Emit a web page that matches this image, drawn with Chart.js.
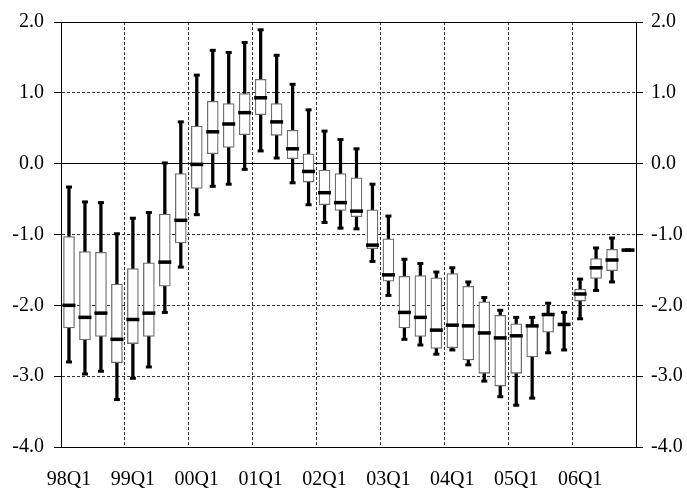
<!DOCTYPE html>
<html><head><meta charset="utf-8">
<script src="https://cdn.jsdelivr.net/npm/chart.js@4/dist/chart.umd.min.js"></script>
<style>html,body{margin:0;padding:0;background:#fff}</style>
</head><body>
<canvas id="c" width="687" height="495"></canvas>
<script>
const quarters = ['98Q1','98Q2','98Q3','98Q4','99Q1','99Q2','99Q3','99Q4',
  '00Q1','00Q2','00Q3','00Q4','01Q1','01Q2','01Q3','01Q4',
  '02Q1','02Q2','02Q3','02Q4','03Q1','03Q2','03Q3','03Q4',
  '04Q1','04Q2','04Q3','04Q4','05Q1','05Q2','05Q3','05Q4',
  '06Q1','06Q2','06Q3','06Q4'];
const whiskerHigh = [-0.33,-0.54,-0.55,-0.99,-0.77,-0.69,0.01,0.59,
  1.25,1.60,1.57,1.71,1.89,1.53,1.12,0.76,
  0.46,0.34,0.21,-0.29,-0.74,-1.35,-1.41,-1.53,
  -1.47,-1.67,-1.89,-2.07,-2.17,-2.17,-1.97,-2.10,
  -1.63,-1.19,-1.05,-1.22];
const boxTop = [-1.03,-1.24,-1.25,-1.70,-1.48,-1.40,-0.71,-0.14,
  0.53,0.88,0.85,0.99,1.19,0.85,0.47,0.14,
  -0.09,-0.14,-0.20,-0.65,-1.06,-1.59,-1.58,-1.61,
  -1.55,-1.73,-1.95,-2.14,-2.26,-2.28,-2.11,-2.25,
  -1.77,-1.34,-1.21,-1.22];
const median = [-2.00,-2.17,-2.11,-2.48,-2.20,-2.11,-1.39,-0.80,
  -0.01,0.45,0.56,0.72,0.93,0.59,0.21,-0.11,
  -0.41,-0.55,-0.67,-1.15,-1.57,-2.10,-2.17,-2.35,
  -2.28,-2.29,-2.39,-2.46,-2.43,-2.29,-2.13,-2.27,
  -1.84,-1.47,-1.36,-1.22];
const boxBottom = [-2.32,-2.49,-2.44,-2.81,-2.54,-2.44,-1.73,-1.12,
  -0.35,0.14,0.23,0.41,0.69,0.40,0.07,-0.26,
  -0.58,-0.66,-0.75,-1.20,-1.66,-2.32,-2.44,-2.61,
  -2.60,-2.77,-2.96,-3.14,-2.96,-2.73,-2.38,-2.29,
  -1.94,-1.62,-1.51,-1.22];
const whiskerLow = [-2.80,-2.97,-2.93,-3.33,-3.03,-2.87,-2.10,-1.46,
  -0.72,-0.32,-0.29,-0.08,0.18,0.08,-0.27,-0.58,
  -0.83,-0.91,-0.92,-1.38,-1.86,-2.48,-2.56,-2.69,
  -2.63,-2.84,-3.07,-3.29,-3.41,-3.31,-2.67,-2.63,
  -2.19,-1.79,-1.67,-1.22];
const yTicks = [-4, -3, -2, -1, 0, 1, 2];

const FONT = {family: '"Liberation Serif","Times New Roman",serif', size: 20};
const DASH = [3, 2];
const CLEAR = 'rgba(0,0,0,0)';

new Chart(document.getElementById('c'), {
  type: 'bar',
  data: {
    labels: quarters,
    datasets: [
      {type: 'bar', data: quarters.map((q, i) => [whiskerLow[i], whiskerHigh[i]]),
        backgroundColor: '#000', borderWidth: 0, barThickness: 2.6, grouped: false, order: 5},
      {type: 'bar', data: quarters.map((q, i) => [boxBottom[i], boxTop[i]]),
        backgroundColor: '#fff', borderColor: '#6e6e6e', borderWidth: 1.3, borderSkipped: false,
        barThickness: 11, grouped: false, order: 4},
      {type: 'line', data: median, showLine: false, pointStyle: 'line', pointRadius: 6.5,
        pointBorderColor: '#000', pointBorderWidth: 3.5, order: 3},
      {type: 'line', data: whiskerHigh, showLine: false, pointStyle: 'line', pointRadius: 3,
        pointBorderColor: '#000', pointBorderWidth: 3, order: 2},
      {type: 'line', data: whiskerLow, showLine: false, pointStyle: 'line', pointRadius: 3,
        pointBorderColor: '#000', pointBorderWidth: 3, order: 1}
    ]
  },
  options: {
    responsive: false,
    devicePixelRatio: 1,
    animation: false,
    events: [],
    layout: {padding: 0},
    plugins: {legend: {display: false}, tooltip: {enabled: false}},
    scales: {
      x: {
        type: 'category', position: 'bottom', offset: true,
        grid: {offset: true, drawTicks: false, lineWidth: 1,
          color: c => (c.index > 0 && c.index < quarters.length && c.index % 4 === 0) ? '#333' : CLEAR},
        border: {display: true, color: '#000', width: 1, dash: DASH},
        ticks: {autoSkip: false, maxRotation: 0, minRotation: 0, padding: 21, color: '#000', font: FONT,
          callback: (v, i) => i % 4 === 0 ? quarters[i] : ''},
        afterFit: s => { s.height = 48; }
      },
      xTop: {
        type: 'category', position: 'top', offset: true,
        grid: {display: false},
        ticks: {display: false},
        border: {display: true, color: '#000', width: 1},
        afterFit: s => { s.height = 17; }
      },
      y: {
        type: 'linear', position: 'left', min: -4, max: 2,
        afterBuildTicks: s => { s.ticks = yTicks.map(v => ({value: v})); },
        ticks: {padding: 10, color: '#000', font: FONT, callback: v => Number(v).toFixed(1)},
        grid: {drawOnChartArea: true, drawTicks: true, tickLength: 7, lineWidth: 1,
          color: c => (c.tick && [-3, -2, -1, 1].includes(c.tick.value)) ? '#333' : CLEAR,
          tickColor: '#000', tickWidth: 1, tickBorderDash: []},
        border: {display: true, color: '#000', width: 1, dash: DASH},
        afterFit: s => { s.width = 61; }
      },
      y2: {
        type: 'linear', position: 'right', min: -4, max: 2,
        afterBuildTicks: s => { s.ticks = yTicks.map(v => ({value: v})); },
        ticks: {padding: 8, color: '#000', font: FONT, callback: v => Number(v).toFixed(1)},
        grid: {drawOnChartArea: true, drawTicks: true, tickLength: 7, lineWidth: 1,
          color: c => (c.tick && c.tick.value === 0) ? '#000' : CLEAR,
          tickColor: '#000', tickWidth: 1},
        border: {display: true, color: '#000', width: 1},
        afterFit: s => { s.width = 51; }
      }
    }
  }
});
</script>
</body></html>
